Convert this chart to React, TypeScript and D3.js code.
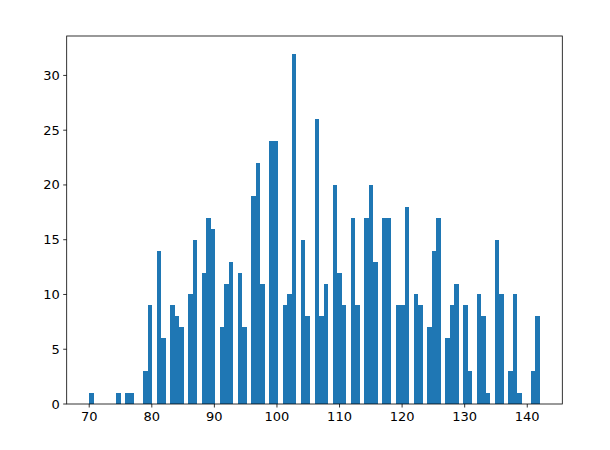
import React from "react";
import * as d3 from "d3";

// Integer values observed (70..142) and how many times each occurs
const values: number[] = d3.range(70, 143);
const counts: number[] = [
  1, 0, 0, 0, 0, 1, 1, 1, 0, 3, // 70-79
  9, 14, 6, 9, 8, 7, 10, 15, 12, 17, // 80-89
  16, 7, 11, 13, 12, 7, 19, 22, 11, 24, // 90-99
  24, 9, 10, 32, 15, 8, 26, 8, 11, 20, // 100-109
  12, 9, 17, 9, 17, 20, 13, 17, 17, 9, // 110-119
  9, 18, 10, 9, 7, 14, 17, 6, 9, 11, // 120-129
  9, 3, 10, 8, 1, 15, 10, 3, 10, 1, // 130-139
  0, 3, 8, // 140-142
];
const binCount = 100;
const xTicks: number[] = [70, 80, 90, 100, 110, 120, 130, 140];
const yTicks: number[] = [0, 5, 10, 15, 20, 25, 30];

const W = 610;
const H = 450;
const left = 66.7;
const right = 562.3;
const top = 36;
const bottom = 404;

export default function App() {
  const vmin = d3.min(values) as number;
  const vmax = d3.max(values) as number;
  const bw = (vmax - vmin) / binCount;
  const edges = d3.range(binCount + 1).map((i) => vmin + i * bw);
  const hist = new Array(binCount).fill(0);
  values.forEach((v, k) => {
    const idx = Math.min(binCount - 1, Math.floor((v - vmin) / bw + 1e-9));
    hist[idx] += counts[k];
  });
  const span = vmax - vmin;
  const x = d3
    .scaleLinear()
    .domain([vmin - 0.05 * span, vmax + 0.05 * span])
    .range([left, right]);
  const ymax = (d3.max(hist) as number) * 1.05;
  const y = d3.scaleLinear().domain([0, ymax]).range([bottom, top]);
  const font = "DejaVu Sans, sans-serif";

  return (
    <svg
      width={W}
      height={H}
      style={{ position: "fixed", left: 0, top: 0, background: "#fff" }}
    >
      <rect x={0} y={0} width={W} height={H} fill="#fff" />
      <g shapeRendering="crispEdges">
        {hist.map((c, i) =>
          c > 0 ? (
            <rect
              key={i}
              x={x(edges[i])}
              y={y(c)}
              width={x(edges[i + 1]) - x(edges[i])}
              height={y(0) - y(c)}
              fill="#1f77b4"
            />
          ) : null
        )}
      </g>
      <rect
        x={left}
        y={top}
        width={right - left}
        height={bottom - top}
        fill="none"
        stroke="#000"
        strokeWidth={0.8}
      />
      {xTicks.map((t) => (
        <g key={"x" + t}>
          <line x1={x(t)} x2={x(t)} y1={bottom} y2={bottom + 3.5} stroke="#000" strokeWidth={0.8} />
          <text
            x={x(t)}
            y={bottom + 7}
            textAnchor="middle"
            dominantBaseline="hanging"
            fontFamily={font}
            fontSize={13}
            fill="#000"
          >
            {t}
          </text>
        </g>
      ))}
      {yTicks.map((t) => (
        <g key={"y" + t}>
          <line x1={left - 3.5} x2={left} y1={y(t)} y2={y(t)} stroke="#000" strokeWidth={0.8} />
          <text
            x={left - 7}
            y={y(t)}
            textAnchor="end"
            dominantBaseline="central"
            fontFamily={font}
            fontSize={13}
            fill="#000"
          >
            {t}
          </text>
        </g>
      ))}
    </svg>
  );
}
